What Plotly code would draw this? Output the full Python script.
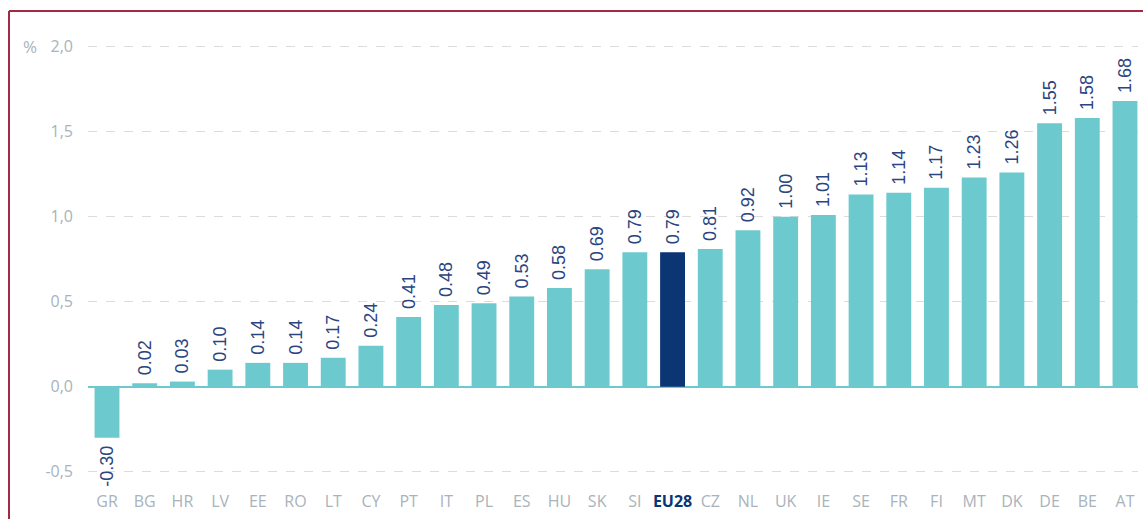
import plotly.graph_objects as go

countries = ["GR", "BG", "HR", "LV", "EE", "RO", "LT", "CY", "PT", "IT", "PL", "ES", "HU", "SK",
             "SI", "EU28", "CZ", "NL", "UK", "IE", "SE", "FR", "FI", "MT", "DK", "DE", "BE", "AT"]
values = [-0.30, 0.02, 0.03, 0.10, 0.14, 0.14, 0.17, 0.24, 0.41, 0.48, 0.49, 0.53, 0.58, 0.69,
          0.79, 0.79, 0.81, 0.92, 1.00, 1.01, 1.13, 1.14, 1.17, 1.23, 1.26, 1.55, 1.58, 1.68]
y_tick_vals = [-0.5, 0.0, 0.5, 1.0, 1.5, 2.0]
y_tick_text = ["-0,5", "0,0", "0,5", "1,0", "1,5", "2,0"]

TEAL = "#6CCACF"
NAVY = "#0B3573"
LABEL = "#2A4580"
GREY = "#A9B3BB"
FONT = "Open Sans"
LFONT = "Liberation Sans"

colors = [NAVY if c == "EU28" else TEAL for c in countries]
tick_text = [f"<b><span style='color:{NAVY}'>{c}</span></b>" if c == "EU28" else c for c in countries]
PAD = "\u00a0"
labels = [(f"{v:.2f}" + PAD) if v < 0 else (PAD + f"{v:.2f}") for v in values]

fig = go.Figure()
fig.add_trace(go.Bar(
    x=list(range(len(countries))), y=values,
    marker=dict(color=colors, line=dict(width=0)),
    text=labels,
    textposition="outside", textangle=-90, constraintext="none",
    textfont=dict(family=LFONT, size=18, color=LABEL),
    cliponaxis=False,
))

W, H = 1143, 519
L, R, T, B = 88, 1138, 12, 490

fig.update_layout(
    width=W, height=H,
    margin=dict(l=L, r=W - R, t=T, b=H - B, pad=0),
    paper_bgcolor="white", plot_bgcolor="white",
    bargap=0.34, showlegend=False,
    font=dict(family=FONT, color=GREY),
    xaxis=dict(
        tickmode="array", tickvals=list(range(len(countries))), ticktext=tick_text,
        range=[-0.504, 27.345], showgrid=False, showline=False, ticks="",
        tickfont=dict(family=FONT, size=16, color=GREY), ticklabelstandoff=0,
    ),
    yaxis=dict(
        range=[-0.608, 2.204], tickmode="array", tickvals=y_tick_vals, ticktext=y_tick_text,
        showgrid=True, gridcolor="#DCDCDC", griddash="dash", gridwidth=1,
        zeroline=True, zerolinecolor=TEAL, zerolinewidth=1.5,
        showline=False, ticks="", tickfont=dict(family=FONT, size=16, color=GREY),
        ticklabelstandoff=14,
    ),
    annotations=[dict(text="%", xref="paper", yref="y", x=(30 - L) / (R - L), y=2.0,
                      showarrow=False, xanchor="center", yanchor="middle",
                      font=dict(family=FONT, size=17, color=GREY))],
)

pw, ph = R - L, B - T
def px(x): return (x - L) / pw
def py(y): return (B - y) / ph

fig.add_shape(type="line", xref="paper", yref="paper", x0=px(9), x1=px(1150), y0=py(11), y1=py(11),
              line=dict(color="#A32A45", width=2))
fig.add_shape(type="line", xref="paper", yref="paper", x0=px(9), x1=px(9), y0=py(11), y1=py(525),
              line=dict(color="#A32A45", width=2))

fig.write_html("out.html")
